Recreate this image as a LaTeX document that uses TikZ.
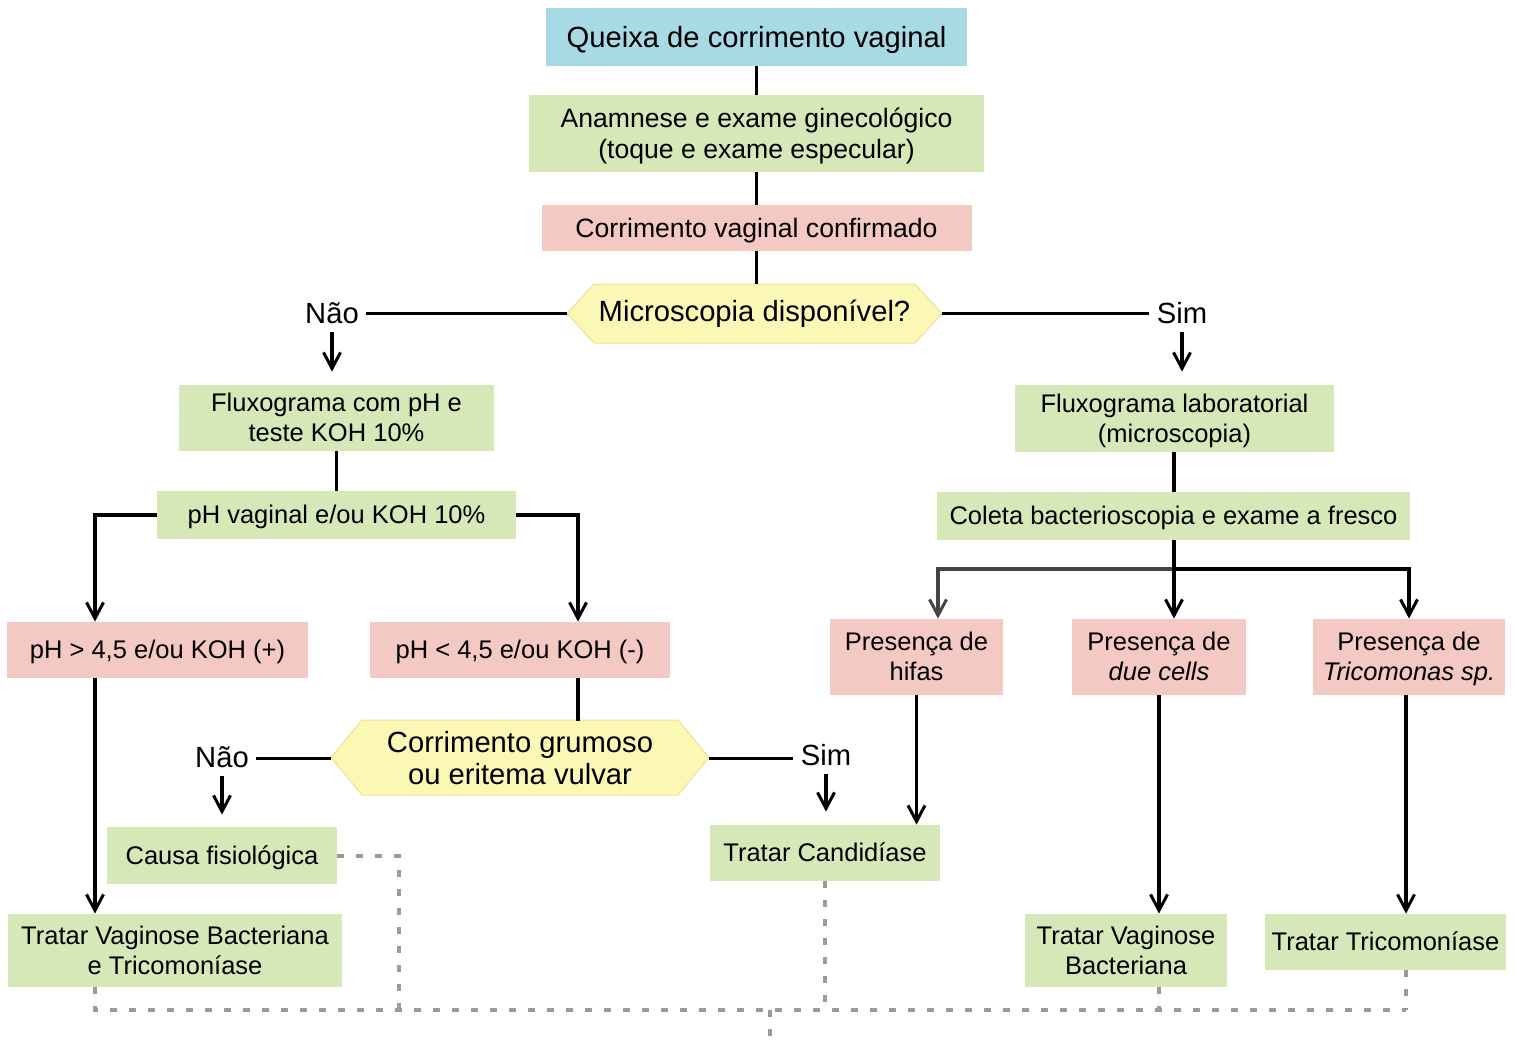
\documentclass[tikz,border=0pt]{standalone}
\usepackage{fontspec}
\setmainfont{Liberation Sans}
\usetikzlibrary{arrows.meta}

\definecolor{cblue}{HTML}{A8DAE6}
\definecolor{cgreen}{HTML}{D6E8B8}
\definecolor{cpink}{HTML}{F4C8C3}
\definecolor{cyell}{HTML}{FBF8B6}
\definecolor{cyedge}{HTML}{F3DD92}
\definecolor{cdash}{HTML}{9A9A9A}
\definecolor{cdark}{HTML}{444444}

\newcommand{\fbig}{\fontsize{14.6}{16}\selectfont}
\newcommand{\fmid}{\fontsize{13.3}{15.5}\selectfont}
\newcommand{\fsml}{\fontsize{12.75}{15}\selectfont}

\tikzset{
  bx/.style n args={3}{fill=#1, draw=none, inner sep=0pt, align=center,
    minimum width=#2*0.5pt, minimum height=#3*0.5pt, font=\fsml,
    text depth=0.5pt},
  hexnode/.style n args={2}{draw=none, inner sep=0pt, align=center,
    minimum width=#1*0.5pt, minimum height=#2*0.5pt, font=\fbig},
  hexshape/.style={fill=cyell, draw=cyedge, line width=0.5pt},
  lbl/.style={inner sep=3.5pt, font=\fbig},
  ln/.style={line width=1.65pt, black},
  arr/.style={ln, -{Straight Barb[length=8pt,width=8.5pt,line width=1.5pt]}},
  arrg/.style={arr, cdark},
  dsh/.style={line width=2pt, cdash, dash pattern=on 3.5pt off 6pt}
}

\begin{document}
\begin{tikzpicture}[x=0.5pt, y=-0.5pt]
\useasboundingbox (0,0) rectangle (1516,1044);

% decision shapes
\filldraw[hexshape] (567,313.5) -- (594,284) -- (915,284) -- (942,313.5) -- (915,343) -- (594,343) -- cycle;
\filldraw[hexshape] (331,757.5) -- (362,720) -- (678,720) -- (709,757.5) -- (678,795) -- (362,795) -- cycle;

% top chain
\node[bx={cblue}{421}{58}, font=\fbig] (Q) at (756.5,37) {Queixa de corrimento vaginal};
\node[bx={cgreen}{455}{77}, font=\fmid] (A) at (756.5,133.5) {Anamnese e exame ginecológico\\(toque e exame especular)};
\node[bx={cpink}{430}{46}, font=\fmid] (C) at (756.5,228) {Corrimento vaginal confirmado};
\node[hexnode={375}{59}] (M) at (754.5,313.5) {Microscopia disponível?};

% left branch
\node[lbl] (NL) at (332,313.5) {Não};
\node[lbl] (SL) at (1182,313.5) {Sim};
\node[bx={cgreen}{315}{66}] (F1) at (336.5,418) {Fluxograma com pH e\\teste KOH 10\%};
\node[bx={cgreen}{359}{48}] (PV) at (336.5,515) {pH vaginal e/ou KOH 10\%};
\node[bx={cpink}{301}{56}] (P1) at (157.5,650) {pH > 4,5 e/ou KOH (+)};
\node[bx={cpink}{300}{56}] (P2) at (520,650) {pH < 4,5 e/ou KOH (-)};
\node[hexnode={378}{75}] (H2) at (520,758.5) {Corrimento grumoso\\ou eritema vulvar};
\node[lbl] (N2) at (222,757.5) {Não};
\node[lbl] (S2) at (826,755.5) {Sim};
\node[bx={cgreen}{230}{57}] (CF) at (222,855.5) {Causa fisiológica};
\node[bx={cgreen}{230}{56}] (TC) at (825,853) {Tratar Candidíase};
\node[bx={cgreen}{334}{73}] (TVBT) at (175,950.5) {Tratar Vaginose Bacteriana\\e Tricomoníase};

% right branch
\node[bx={cgreen}{319}{67}] (F2) at (1174.5,418.5) {Fluxograma laboratorial\\(microscopia)};
\node[bx={cgreen}{473}{48}] (CO) at (1173.5,516) {Coleta bacterioscopia e exame a fresco};
\node[bx={cpink}{173}{76}] (PH) at (916.5,657) {Presença de\\hifas};
\node[bx={cpink}{174}{76}] (PD) at (1159,657) {Presença de\\\textit{due cells}};
\node[bx={cpink}{192}{76}] (PT) at (1409,657) {Presença de\\\textit{Tricomonas sp.}};
\node[bx={cgreen}{202}{73}] (TVB) at (1126,950.5) {Tratar Vaginose\\Bacteriana};
\node[bx={cgreen}{241}{56}] (TT) at (1385.5,942) {Tratar Tricomoníase};

% helper columns and rows
\coordinate (lx) at (95,0);
\coordinate (rx) at (578,0);
\coordinate (hx) at (938,0);
\coordinate (bj) at (1174,569);
\coordinate (cx) at (399,0);
\coordinate (tx) at (1406,0);
\coordinate (dy) at (0,1010);
\coordinate (out) at (770,1044);

% solid connectors
\draw[ln] (Q.south) -- (A.north);
\draw[ln] (A.south) -- (C.north);
\draw[ln] (C.south) -- (C.south |- M.north);
\draw[ln] (M.west) -- (M.west -| NL.east);
\draw[ln] (M.east) -- (M.east -| SL.west);
\draw[arr, shorten >=6.5pt] (NL.south) -- (NL.south |- F1.north);
\draw[arr, shorten >=6.5pt] (SL.south) -- (SL.south |- F2.north);
\draw[ln] (F1.south) -- (PV.north);
\draw[ln] (bj |- F2.south) -- (bj |- CO.north);
\draw[arr] (PV.west) -| (lx |- P1.north);
\draw[arr] (PV.east) -| (rx |- P2.north);
\draw[arr] (lx |- P1.south) -- (lx |- TVBT.north);
\draw[ln] (rx |- P2.south) -- (rx |- H2.north);
\draw[ln] (H2.west) -- (H2.west -| N2.east);
\draw[ln] (H2.east) -- (H2.east -| S2.west);
\draw[arr, shorten >=6pt] (N2.south) -- (N2.south |- CF.north);
\draw[arr, shorten >=6.5pt] (S2.south) -- (S2.south |- TC.north);

\draw[arrg] (bj) -| (hx |- PH.north);
\draw[arr] (bj) -| (PT.north);
\draw[arr] (CO.south -| bj) -- (bj |- PD.north);
\draw[arr] (PH.south) -- (PH.south |- TC.north);
\draw[arr] (PD.south) -- (PD.south |- TVB.north);
\draw[arr] (tx |- PT.south) -- (tx |- TT.north);

% dashed collectors
\draw[dsh] (lx |- TVBT.south) -- (lx |- dy) -- (tx |- dy);
\draw[dsh] (CF.east) -| (cx |- dy);
\draw[dsh] (TC.south) -- (TC.south |- dy);
\draw[dsh] (PD.south |- TVB.south) -- (PD.south |- dy);
\draw[dsh] (tx |- TT.south) -- (tx |- dy);
\draw[dsh] (out |- dy) -- (out);
\end{tikzpicture}
\end{document}
